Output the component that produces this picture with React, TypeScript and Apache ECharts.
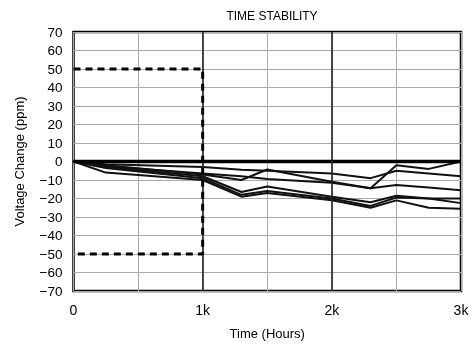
import React, { useEffect, useRef } from "react";
import * as echarts from "echarts";

const hours = [0, 250, 1000, 1300, 1500, 2000, 2300, 2500, 2750, 3000];
const unit1 = [0, -1.5, -3, -4.5, -5, -6.5, -9, -5, -6.5, -8];
const unit2 = [0, -2, -7, -10, -4.3, -11, -14.4, -2, -4, 0];
const unit3 = [0, -2.5, -6.5, -8, -9.5, -11.5, -14.4, -12.7, -14, -15.5];
const unit4 = [0, -3, -8, -16.5, -13.5, -19, -22, -18.5, -20, -22.5];
const unit5 = [0, -3.5, -9, -18, -16, -20, -24, -19.5, -20, -20];
const unit6 = [0, -6, -10, -19, -17, -21, -25, -21, -25, -25.5];
const units = [unit1, unit2, unit3, unit4, unit5, unit6];
const zeroRef = [0, 0];
const zeroHours = [0, 3000];
const limitHours = [0, 1000, 1000, 0];
const limitValues = [50, 50, -50, -50];
const xTickLabels: Record<number, string> = { 0: "0", 1000: "1k", 2000: "2k", 3000: "3k" };

const FONT = "Liberation Sans, Arial, Helvetica, sans-serif";

export default function App() {
  const ref = useRef<HTMLDivElement>(null);
  useEffect(() => {
    if (!ref.current) return;
    const chart = echarts.init(ref.current, undefined, { renderer: "svg" });
    const series: any[] = units.map((u, i) => ({
      name: "unit" + (i + 1),
      type: "line",
      data: hours.map((h, j) => [h, u[j]]),
      showSymbol: false,
      lineStyle: { color: "#111", width: 2 },
      z: 3,
    }));
    series.push({
      name: "zero",
      type: "line",
      data: zeroHours.map((h, j) => [h, zeroRef[j]]),
      showSymbol: false,
      lineStyle: { color: "#000", width: 3.5 },
      z: 4,
      markLine: {
        silent: true,
        symbol: "none",
        label: { show: false },
        lineStyle: { color: "#222", width: 1.6, type: "solid" },
        data: [{ xAxis: 1000 }, { xAxis: 2000 }],
      },
    });
    series.push({
      name: "limit",
      type: "line",
      data: limitHours.map((h, j) => [h, limitValues[j]]),
      showSymbol: false,
      lineStyle: { color: "#000", width: 3, type: [7, 5] },
      z: 5,
    });
    chart.setOption({
      animation: false,
      textStyle: { fontFamily: FONT },
      title: {
        text: "TIME STABILITY",
        left: 267,
        textAlign: "center",
        top: 5,
        textStyle: { fontSize: 12, fontWeight: "normal", color: "#000", fontFamily: FONT },
      },
      grid: {
        left: 73.5,
        right: 14,
        top: 32,
        bottom: 51,
        show: true,
        borderColor: "#000",
        borderWidth: 2.5,
        backgroundColor: "transparent",
      },
      xAxis: {
        type: "value",
        min: 0,
        max: 3000,
        interval: 500,
        name: "Time (Hours)",
        nameLocation: "middle",
        nameGap: 36,
        nameTextStyle: { fontSize: 13, color: "#000", fontFamily: FONT },
        axisLine: { show: false },
        axisTick: { show: false },
        axisLabel: {
          fontSize: 14,
          color: "#000",
          margin: 12,
          fontFamily: FONT,
          formatter: (v: number) => xTickLabels[v] ?? "",
        },
        splitLine: { show: true, lineStyle: { color: "#aaa", width: 1 } },
      },
      yAxis: {
        type: "value",
        min: -70,
        max: 70,
        interval: 10,
        name: "Voltage Change (ppm)",
        nameLocation: "middle",
        nameGap: 48,
        nameTextStyle: { fontSize: 13, color: "#000", fontFamily: FONT },
        axisLine: { show: false },
        axisTick: { show: false },
        axisLabel: {
          fontSize: 13.5,
          color: "#000",
          margin: 11,
          fontFamily: FONT,
          formatter: (v: number) => (v < 0 ? "\u2212" + Math.abs(v) : String(v)),
        },
        splitLine: { show: true, lineStyle: { color: "#aaa", width: 1 } },
      },
      series,
    });
    return () => chart.dispose();
  }, []);
  return (
    <div
      ref={ref}
      style={{ position: "fixed", left: 0, top: 0, width: 475, height: 345 }}
    />
  );
}
